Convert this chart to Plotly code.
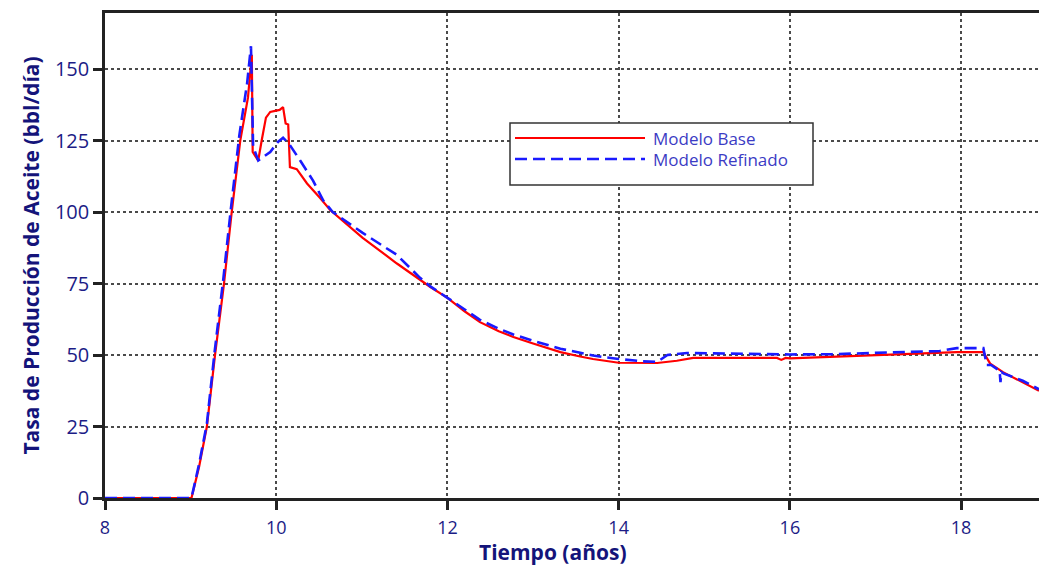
import plotly.graph_objects as go

# Tiempo (años) y tasa de producción (bbl/día) de cada modelo
t_base = [8.0, 9.01, 9.10, 9.19, 9.285, 9.39, 9.48, 9.58, 9.67, 9.715, 9.725, 9.79,
          9.83, 9.88, 9.93, 10.04, 10.08, 10.11, 10.14, 10.16, 10.24, 10.36, 10.51,
          10.63, 11.01, 11.41, 11.8, 12.0, 12.2, 12.38, 12.6, 12.77, 13.0, 13.16,
          13.32, 13.55, 13.7, 14.0, 14.45, 14.68, 14.87, 15.5, 15.85, 15.9, 15.95,
          16.0, 16.5, 16.97, 17.5, 17.95, 18.26, 18.34, 18.49, 18.72, 18.91]
q_base = [0, 0, 11, 25, 50, 75, 100, 125, 140, 155, 121, 118,
          125, 133, 135, 135.7, 136.7, 131, 130.6, 115.7, 115, 110, 105,
          100.7, 91, 82, 73.8, 70, 65.3, 61.5, 58.3, 56.3, 54, 52.6,
          51, 49.5, 48.6, 47.3, 47.2, 48, 49, 49, 49, 48.3, 49,
          48.8, 49.3, 50, 50.5, 51, 51, 47, 44, 40.5, 37.5]

t_ref = [8.0, 9.01, 9.10, 9.19, 9.28, 9.38, 9.47, 9.57, 9.66, 9.705, 9.73, 9.79,
         9.93, 10.02, 10.08, 10.16, 10.28, 10.43, 10.55, 10.66, 11.01, 11.41,
         11.68, 11.8, 12.0, 12.2, 12.38, 12.6, 12.77, 13.0, 13.16, 13.32, 13.55,
         13.7, 14.0, 14.28, 14.45, 14.57, 14.8, 15.2, 15.6, 16.0, 16.5, 16.97,
         17.5, 17.75, 17.95, 18.26, 18.29, 18.3, 18.35, 18.45, 18.46, 18.47, 18.5,
         18.72, 18.91]
q_ref = [0, 0, 12, 26, 51, 76, 101, 127, 145, 158, 123, 118,
         121, 124.5, 126, 123.4, 118, 111, 104, 100, 92.7, 85,
         77, 74, 70, 65.8, 62.3, 59.2, 57.2, 55, 53.6, 52.2, 50.8,
         49.8, 48.6, 47.8, 47.6, 50, 50.7, 50.5, 50.5, 50.2, 50.3, 50.7,
         51, 51.4, 52.4, 52.4, 48, 46.5, 46.5, 44.5, 40.5, 44, 43.5,
         41, 38]

y_ticks = [0, 25, 50, 75, 100, 125, 150]
x_ticks = [8, 10, 12, 14, 16, 18]

series_names = ["Modelo Base", "Modelo Refinado"]
series_colors = ["#ff0000", "#1a1aff"]

NAVY = "#1c1c86"
TITLE = "#14147a"
AXIS = "#222222"
GRID = "#4a4a4a"
FONT = "Open Sans, sans-serif"

fig = go.Figure()
fig.add_trace(go.Scatter(x=t_base, y=q_base, mode="lines", name=series_names[0],
                         line=dict(color=series_colors[0], width=2.2),
                         showlegend=False))
fig.add_trace(go.Scatter(x=t_ref, y=q_ref, mode="lines", name=series_names[1],
                         line=dict(color=series_colors[1], width=2.6, dash="12px,6px"),
                         showlegend=False))

# Framed legend with long line samples (paper coordinates)
PW, PH, PL, PB = 934, 485, 105, 498
def px(x):
    return (x - PL) / PW
def py(y):
    return (PB - y) / PH

row_y = [py(138), py(159)]
shapes = [dict(type="rect", xref="paper", yref="paper", x0=px(510), x1=px(813),
               y0=py(185), y1=py(123), line=dict(color="#333333", width=1.5),
               fillcolor="white", layer="above")]
shapes.append(dict(type="line", xref="paper", yref="paper", x0=px(515), x1=px(645),
                   y0=row_y[0], y1=row_y[0], layer="above",
                   line=dict(color=series_colors[0], width=2.2)))
shapes.append(dict(type="line", xref="paper", yref="paper", x0=px(515), x1=px(645),
                   y0=row_y[1], y1=row_y[1], layer="above",
                   line=dict(color=series_colors[1], width=2.6, dash="12px,6px")))
annotations = []
for name, yy in zip(series_names, row_y):
    annotations.append(dict(xref="paper", yref="paper", x=px(651), y=yy,
                            xanchor="left", yanchor="middle", text=name, showarrow=False,
                            font=dict(family=FONT, size=17, color="#3b3bc4")))

# x-axis title
annotations.append(dict(xref="paper", yref="paper", x=px(553), y=py(552),
                        xanchor="center", yanchor="middle", showarrow=False,
                        text="<b>Tiempo (años)</b>",
                        font=dict(family=FONT, size=21, color=TITLE)))

fig.update_layout(
    width=1039, height=568,
    margin=dict(l=105, r=0, t=13, b=70),
    paper_bgcolor="white", plot_bgcolor="white",
    shapes=shapes, annotations=annotations,
    font=dict(family=FONT, color=NAVY),
)
fig.update_xaxes(
    range=[8, 18.91], tickvals=x_ticks, ticktext=[str(v) for v in x_ticks],
    showgrid=True, gridcolor=GRID, griddash="dot", gridwidth=1.5,
    showline=True, linecolor=AXIS, linewidth=2.5, mirror=True,
    ticks="outside", ticklen=9, tickwidth=2.5, tickcolor=AXIS,
    tickfont=dict(size=18, color=NAVY), zeroline=False, ticklabelstandoff=3,
)
fig.update_yaxes(
    range=[0, 169.6], tickvals=y_ticks, ticktext=[str(v) for v in y_ticks],
    showgrid=True, gridcolor=GRID, griddash="dot", gridwidth=1.5,
    showline=True, linecolor=AXIS, linewidth=2.5,
    ticks="outside", ticklen=9, tickwidth=2.5, tickcolor=AXIS,
    tickfont=dict(size=20, color=NAVY), zeroline=False,
    title=dict(text="<b>Tasa de Producción de Aceite (bbl/día)</b>", standoff=10,
               font=dict(size=21, color=TITLE)),
)

fig.write_html("out.html")
